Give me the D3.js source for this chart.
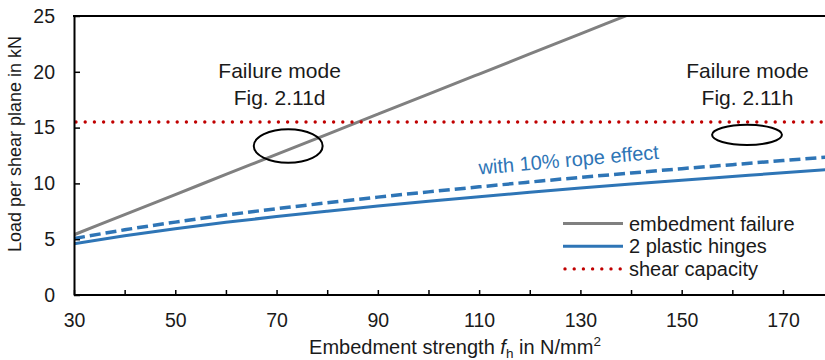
<!DOCTYPE html>
<html>
<head>
<meta charset="utf-8">
<script src="https://cdn.jsdelivr.net/npm/d3@7"></script>
<style>
  body { margin: 0; background: #fff; }
  svg { font-family: "Liberation Sans", Arial, sans-serif; }
</style>
</head>
<body>
<div id="chart"></div>
<script>
// embedment strength fh in N/mm2
var fh = [30, 40, 50, 60, 70, 80, 90, 100, 110, 120, 130, 140, 150, 160, 170, 180];
// load per shear plane in kN
var embedmentFailure = [5.4, 7.2, 9.0, 10.8, 12.6, 14.4, 16.2, 18.0, 19.8, 21.6, 23.4, 25.2, 27.0, 28.8, 30.6, 32.4];
var plasticHinges = [4.60, 5.31, 5.94, 6.51, 7.03, 7.51, 7.97, 8.40, 8.81, 9.20, 9.58, 9.94, 10.29, 10.62, 10.95, 11.27];
var ropeEffect = [5.06, 5.84, 6.53, 7.16, 7.73, 8.26, 8.77, 9.24, 9.69, 10.12, 10.54, 10.93, 11.32, 11.68, 12.05, 12.40];
var shearCapacity = 15.5;

var xTicks = [30, 40, 50, 60, 70, 80, 90, 100, 110, 120, 130, 140, 150, 160, 170, 180];
var xLabels = [30, 50, 70, 90, 110, 130, 150, 170];
var yTicks = [0, 5, 10, 15, 20, 25];

var legendNames = ["embedment failure", "2 plastic hinges", "shear capacity"];
var legendColors = ["#808080", "#2e75b6", "#c00000"];

// annotations: [fh, load]
var ellipses = [
    {cx: 72.3, cy: 13.35, rx: 6.8, ry: 1.5},
    {cx: 162.9, cy: 14.35, rx: 6.9, ry: 0.9}
];
var notes = [
    {x: 70.6, lines: ["Failure mode", "Fig. 2.11d"]},
    {x: 163.0, lines: ["Failure mode", "Fig. 2.11h"]}
];

var width = 825, height = 360;
var svg = d3.select("#chart").append("svg")
    .attr("width", width).attr("height", height);

var x = d3.scaleLinear().domain([30, 180]).range([74, 833.6]);
var y = d3.scaleLinear().domain([0, 25]).range([295, 16]);

svg.append("clipPath").attr("id", "plot")
  .append("rect").attr("x", 74).attr("y", y(25)).attr("width", 760).attr("height", y(0) - y(25));

var plot = svg.append("g").attr("clip-path", "url(#plot)");

var line = d3.line()
    .x(function(d) { return x(d[0]); })
    .y(function(d) { return y(d[1]); })
    .curve(d3.curveMonotoneX);

function pairs(vals) { return fh.map(function(f, i) { return [f, vals[i]]; }); }

plot.append("path")
    .attr("d", line(pairs(embedmentFailure)))
    .attr("fill", "none").attr("stroke", "#808080").attr("stroke-width", 3);

plot.append("path")
    .attr("d", line(pairs(ropeEffect)))
    .attr("fill", "none").attr("stroke", "#2e75b6").attr("stroke-width", 3.5)
    .attr("stroke-dasharray", "11,5");

plot.append("path")
    .attr("d", line(pairs(plasticHinges)))
    .attr("fill", "none").attr("stroke", "#2e75b6").attr("stroke-width", 3);

plot.append("line")
    .attr("x1", x(30) + 2).attr("x2", width)
    .attr("y1", y(shearCapacity)).attr("y2", y(shearCapacity))
    .attr("stroke", "#c00000").attr("stroke-width", 3.4)
    .attr("stroke-linecap", "round").attr("stroke-dasharray", "0,9.2");

// ellipses marking failure modes
svg.selectAll(".mark").data(ellipses).enter().append("ellipse")
    .attr("cx", function(d) { return x(d.cx); })
    .attr("cy", function(d) { return y(d.cy); })
    .attr("rx", function(d) { return x(d.cx + d.rx) - x(d.cx); })
    .attr("ry", function(d) { return y(d.cy - d.ry) - y(d.cy); })
    .attr("fill", "none").attr("stroke", "#000").attr("stroke-width", 2);

notes.forEach(function(n) {
    n.lines.forEach(function(t, i) {
        svg.append("text")
            .attr("x", x(n.x)).attr("y", 78 + i * 27)
            .attr("text-anchor", "middle")
            .attr("font-size", "21px").attr("fill", "#1a1a1a")
            .text(t);
    });
});

svg.append("text")
    .attr("transform", "translate(" + x(127.8) + "," + y(11.5) + ") rotate(-5)")
    .attr("text-anchor", "middle")
    .attr("font-size", "20px").attr("fill", "#2e75b6")
    .text("with 10% rope effect");

// axes
var xAxis = d3.axisBottom(x)
    .tickValues(xTicks)
    .tickSizeInner(-5).tickSizeOuter(0).tickPadding(18)
    .tickFormat(function(d) { return xLabels.indexOf(d) >= 0 ? d : ""; });

var gx = svg.append("g").attr("transform", "translate(0," + y(0) + ")").call(xAxis);
gx.select(".domain").attr("stroke-width", 2).attr("d", "M74,0H" + width);
gx.selectAll(".tick line").attr("stroke-width", 1.5);
gx.selectAll("text").attr("font-size", "19.5px").attr("fill", "#1a1a1a")
    .attr("font-family", "Liberation Sans, Arial, sans-serif");

var yAxis = d3.axisLeft(y)
    .tickValues(yTicks)
    .tickSizeInner(-6).tickSizeOuter(0).tickPadding(19);

var gy = svg.append("g").attr("transform", "translate(74,0)").call(yAxis);
gy.select(".domain").attr("stroke-width", 2);
gy.selectAll(".tick line").attr("stroke-width", 1.5);
gy.selectAll("text").attr("font-size", "19.5px").attr("fill", "#1a1a1a")
    .attr("font-family", "Liberation Sans, Arial, sans-serif");

// top border
svg.append("line")
    .attr("x1", 73).attr("x2", width)
    .attr("y1", y(25)).attr("y2", y(25))
    .attr("stroke", "#000").attr("stroke-width", 2);

// axis titles
var xt = svg.append("text")
    .attr("x", 455).attr("y", 354)
    .attr("text-anchor", "middle")
    .attr("font-size", "20px").attr("fill", "#1a1a1a");
xt.append("tspan").text("Embedment strength ");
xt.append("tspan").attr("font-style", "italic").text("f");
xt.append("tspan").attr("font-size", "13.5px").attr("dy", 4).text("h");
xt.append("tspan").attr("dy", -4).text(" in N/mm");
xt.append("tspan").attr("font-size", "13.5px").attr("dy", -8).text("2");

svg.append("text")
    .attr("transform", "translate(21,144) rotate(-90)")
    .attr("text-anchor", "middle")
    .attr("font-size", "18px").attr("fill", "#1a1a1a")
    .text("Load per shear plane in kN");

// legend
var legend = svg.append("g").attr("transform", "translate(563,223.5)");
legendNames.forEach(function(name, i) {
    var row = legend.append("g").attr("transform", "translate(0," + (i * 22.7) + ")");
    var l = row.append("line")
        .attr("x1", i == 2 ? 2 : 0).attr("x2", 60)
        .attr("stroke", legendColors[i]).attr("stroke-width", i == 2 ? 3.4 : 3);
    if (i == 2) l.attr("stroke-linecap", "round").attr("stroke-dasharray", "0,9.2");
    row.append("text")
        .attr("x", 66).attr("dy", "0.35em")
        .attr("font-size", "20px").attr("fill", "#1a1a1a")
        .text(name);
});
</script>
</body>
</html>
